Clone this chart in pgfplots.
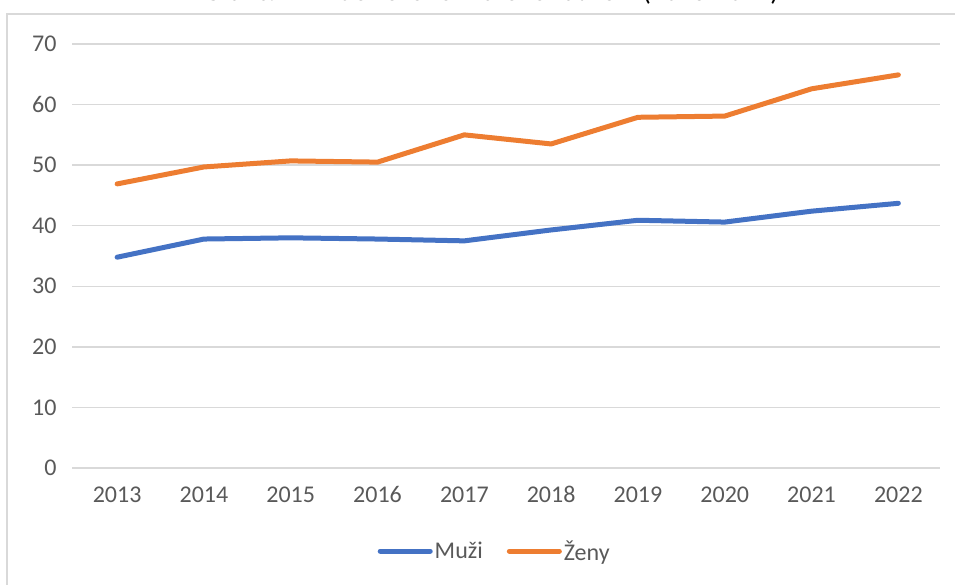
\documentclass[border=0pt]{standalone}
\usepackage{pgfplots}
\pgfplotsset{compat=1.18}
\usepackage{fontspec}
\setmainfont{Carlito}
\definecolor{muzi}{HTML}{4472C4}
\definecolor{zeny}{HTML}{ED7D31}
\definecolor{gridc}{HTML}{D9D9D9}
\definecolor{labc}{HTML}{595959}
\begin{document}
\begin{tikzpicture}[x=1pt,y=1pt]
\path[use as bounding box, clip] (0,0) rectangle (955,584);
\draw[gridc, line width=1.5pt] (7,-10) -- (7,570) -- (970,570);
\begin{axis}[
  at={(72pt,116pt)}, anchor=south west,
  scale only axis,
  width=868pt, height=424pt,
  xmin=2012.48, xmax=2022.48,
  ymin=0, ymax=70,
  xtick={2013,2014,2015,2016,2017,2018,2019,2020,2021,2022},
  ytick={0,10,20,30,40,50,60,70},
  /pgf/number format/.cd, set thousands separator={}, assume math mode=true,
  /pgfplots/.cd,
  axis line style={draw=none},
  major tick length=0pt,
  ymajorgrids,
  grid style={gridc, line width=1.5pt},
  tick label style={font=\fontsize{24}{28}\selectfont, text=labc},
  yticklabel style={xshift=-12pt},
  xticklabel style={yshift=-15pt},
  title={Graf č. 12 Index ekonomického zatížení (2013-2022)},
  title style={at={(0.4827,1.0873)}, anchor=base, font=\fontsize{27.4}{32}\selectfont, text=black},
  legend columns=2,
  legend style={draw=none, fill=none, at={(0.487,-0.196)}, anchor=center,
    font=\fontsize{24}{28}\selectfont, text=labc,
    /tikz/every even column/.append style={column sep=22pt},
    nodes={inner sep=2pt}},
  legend image code/.code={\draw[#1, line cap=round] (0pt,0pt) -- (50pt,0pt);},
  every axis plot/.append style={line width=5pt, line join=round, line cap=round},
]
\addplot[muzi, mark=none] coordinates {
(2013,34.8) (2014,37.8) (2015,38.0) (2016,37.8) (2017,37.5)
(2018,39.3) (2019,40.9) (2020,40.6) (2021,42.4) (2022,43.7)};
\addlegendentry{Muži}
\addplot[zeny, mark=none] coordinates {
(2013,46.9) (2014,49.7) (2015,50.7) (2016,50.5) (2017,55.0)
(2018,53.5) (2019,57.9) (2020,58.1) (2021,62.6) (2022,64.9)};
\addlegendentry{Ženy}
\end{axis}
\end{tikzpicture}
\end{document}
